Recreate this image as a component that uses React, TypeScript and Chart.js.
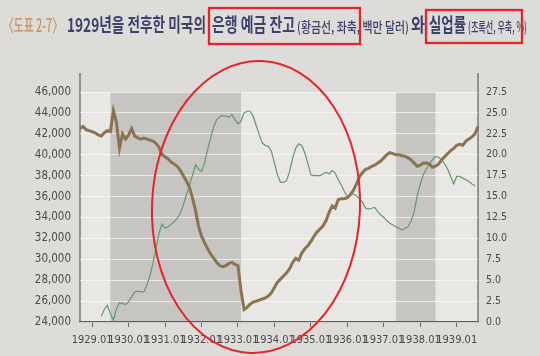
import React, { useEffect, useRef } from "react";
import { Chart, registerables } from "chart.js";

Chart.register(...registerables);

// ---------- categories (monthly, 1928.09 – 1939.08) ----------
const START_YEAR = 1928;
const START_MONTH = 9;
const MONTH_COUNT = 132;
const months: string[] = [];
for (let i = 0; i < MONTH_COUNT; i++) {
  const t = START_MONTH - 1 + i;
  const y = START_YEAR + Math.floor(t / 12);
  const m = (t % 12) + 1;
  months.push(`${y}.${String(m).padStart(2, "0")}`);
}

// ---------- series: bank deposits (million $, left axis) ----------
const deposits: number[] = [
  42500, 42700, 42400, 42300, // 1928.09-12
  42200, 42100, 41900, 41800, 42100, 42300, 42200, 44200, 43100, 40600, 42000, 41500, // 1929
  41900, 42500, 41800, 41600, 41500, 41600, 41500, 41400, 41300, 41100, 40700, 40000, // 1930
  39800, 39600, 39300, 39100, 38900, 38500, 38000, 37500, 36900, 35900, 34700, 33200, // 1931
  32200, 31600, 31000, 30500, 30100, 29700, 29400, 29300, 29400, 29600, 29700, 29500, // 1932
  29400, 27000, 25200, 25400, 25700, 25900, 26000, 26100, 26200, 26300, 26500, 26800, // 1933
  27300, 27800, 28100, 28400, 28700, 29100, 29700, 30100, 29900, 30600, 31000, 31300, // 1934
  31700, 32200, 32600, 32900, 33200, 33700, 34500, 35100, 34900, 35700, 35800, 35800, // 1935
  35900, 36200, 36600, 37200, 37900, 38300, 38600, 38700, 38900, 39000, 39200, 39400, // 1936
  39700, 40000, 40200, 40100, 40000, 40000, 39900, 39850, 39700, 39500, 39200, 38900, // 1937
  39000, 39200, 39200, 39100, 38800, 38900, 39100, 39500, 39800, 40100, 40400, 40600, // 1938
  40900, 41000, 40900, 41300, 41500, 41700, 42000, 42700, // 1939.01-08
];

// ---------- series: unemployment rate (%, right axis) ----------
const unemployment: (number | null)[] = [
  null, null, null, null, // 1928.09-12
  null, null, null, 0.7, 1.5, 2.0, 1.0, 0.2, 1.6, 2.3, 2.2, 2.1, // 1929
  2.4, 3.0, 3.6, 3.7, 3.6, 3.6, 4.4, 5.5, 7.0, 8.8, 10.6, 11.7, // 1930
  11.2, 11.4, 11.7, 12.0, 12.4, 13.0, 14.0, 15.2, 16.3, 17.5, 18.8, 18.3, // 1931
  18.0, 19.0, 20.6, 22.0, 23.3, 24.2, 24.5, 24.7, 24.6, 24.5, 24.8, 24.2, // 1932
  23.7, 24.0, 25.0, 25.2, 25.2, 24.6, 23.5, 22.4, 21.4, 21.1, 21.0, 20.4, // 1933
  19.0, 17.6, 16.7, 16.7, 16.9, 18.0, 19.6, 20.8, 21.3, 21.1, 20.2, 19.0, // 1934
  17.6, 17.5, 17.5, 17.5, 17.7, 17.9, 17.7, 18.1, 17.8, 17.0, 16.4, 15.6, // 1935
  15.0, 15.2, 15.3, 15.1, 14.7, 14.3, 13.6, 13.5, 13.6, 13.7, 13.2, 12.8, // 1936
  12.5, 12.1, 11.8, 11.6, 11.4, 11.2, 11.0, 11.2, 11.4, 12.1, 13.2, 15.1, // 1937
  16.5, 17.6, 18.3, 18.9, 19.4, 19.8, 19.7, 19.4, 18.9, 18.3, 17.4, 16.5, // 1938
  17.4, 17.4, 17.2, 17.0, 16.8, 16.5, 16.3, null, // 1939.01-08
];

// recession (shaded) periods
const recessionBands: [string, string][] = [
  ["1929.07", "1933.02"],
  ["1937.05", "1938.06"],
];

// axis ranges
const depositAxis = { min: 24000, max: 46000, step: 2000 };
const rateAxis = { min: 0, max: 27.5, step: 2.5 };

// title text pieces
const titleTexts = [
  "〈도표 2-7〉",
  "1929년을 전후한 미국의",
  "은행 예금 잔고",
  "(황금선, 좌축, 백만 달러)",
  "와",
  "실업률",
  "(초록선, 우축, %)",
];

const KR = '"Noto Sans CJK KR", "Noto Sans", sans-serif';
const NARROW = '"Liberation Sans Narrow", "DejaVu Sans Condensed", "Liberation Sans", sans-serif';

function drawFit(
  ctx: CanvasRenderingContext2D,
  text: string,
  x0: number,
  x1: number,
  y: number,
  font: string,
  color: string
) {
  ctx.save();
  ctx.font = font;
  ctx.fillStyle = color;
  ctx.textBaseline = "middle";
  ctx.textAlign = "left";
  const w = ctx.measureText(text).width;
  ctx.translate(x0, y);
  ctx.scale((x1 - x0) / w, 1);
  ctx.fillText(text, 0, 0);
  ctx.restore();
}

const decorPlugin = {
  id: "decor",
  beforeDraw(chart: any) {
    const ctx: CanvasRenderingContext2D = chart.ctx;
    const { left, right, top, bottom } = chart.chartArea;
    ctx.save();
    // page
    ctx.fillStyle = "#dddcd8";
    ctx.fillRect(0, 0, chart.width, chart.height);
    // plot background
    ctx.fillStyle = "#e8e7e4";
    ctx.fillRect(left, top, right - left, bottom - top);
    // bands
    const xs = chart.scales.x;
    ctx.fillStyle = "#c6c5c1";
    for (const [a, b] of recessionBands) {
      const xa = xs.getPixelForValue(months.indexOf(a));
      const xb = xs.getPixelForValue(months.indexOf(b));
      ctx.fillRect(xa, top, xb - xa, bottom - top);
    }
    // title
    const tan = "#c4946a";
    const navy = "#3d416c";
    const big = `600 19px ${KR}`;
    const small = `500 14px ${KR}`;
    drawFit(ctx, titleTexts[0], 3, 63, 25, `500 18px ${KR}`, tan);
    drawFit(ctx, titleTexts[1], 67, 206, 25, big, navy);
    drawFit(ctx, titleTexts[2], 212, 295, 25, big, navy);
    drawFit(ctx, titleTexts[3], 297, 409, 27, small, navy);
    drawFit(ctx, titleTexts[4], 411, 425, 25, big, navy);
    drawFit(ctx, titleTexts[5], 429, 466, 25, big, navy);
    drawFit(ctx, titleTexts[6], 468, 527, 27, small, navy);
    // vertical axis lines (extend above the plot)
    ctx.strokeStyle = "#5f5f5f";
    ctx.lineWidth = 1.2;
    ctx.beginPath();
    ctx.moveTo(left, 73);
    ctx.lineTo(left, bottom);
    ctx.moveTo(right, 73);
    ctx.lineTo(right, bottom);
    ctx.stroke();
    ctx.restore();
  },
  afterDraw(chart: any) {
    const ctx: CanvasRenderingContext2D = chart.ctx;
    ctx.save();
    ctx.strokeStyle = "#e4252b";
    ctx.lineWidth = 2.3;
    ctx.strokeRect(209, 8, 151, 36);
    ctx.strokeRect(426, 10, 96, 33);
    ctx.lineWidth = 2;
    ctx.beginPath();
    ctx.ellipse(256, 207, 104, 146, 0.04, 0, Math.PI * 2);
    ctx.stroke();
    ctx.restore();
  },
};

export default function App() {
  const ref = useRef<HTMLCanvasElement | null>(null);

  useEffect(() => {
    if (!ref.current) return;
    const chart = new Chart(ref.current, {
      type: "line",
      data: {
        labels: months,
        datasets: [
          {
            label: "은행 예금 잔고",
            data: deposits,
            yAxisID: "y",
            borderColor: "#8a7350",
            borderWidth: 3,
            pointRadius: 0,
            tension: 0,
          },
          {
            label: "실업률",
            data: unemployment,
            yAxisID: "y1",
            borderColor: "#66966e",
            borderWidth: 1.2,
            pointRadius: 0,
            tension: 0,
            spanGaps: false,
          },
        ],
      },
      options: {
        responsive: false,
        animation: false,
        layout: { padding: { top: 92, left: 0, right: 0, bottom: 0 } },
        plugins: { legend: { display: false }, tooltip: { enabled: false } },
        scales: {
          x: {
            type: "category",
            grid: {
              drawOnChartArea: false,
              tickLength: 5,
              color: (c: any) =>
                months[c.index] && months[c.index].endsWith(".01") ? "#666666" : "rgba(0,0,0,0)",
            },
            border: { color: "#5f5f5f", width: 1.2 },
            ticks: {
              autoSkip: false,
              maxRotation: 0,
              minRotation: 0,
              padding: 7,
              color: "#4a4a4a",
              font: { family: NARROW, size: 11 },
              callback: (_v: any, i: number) => (months[i].endsWith(".01") ? months[i] : ""),
            },
            afterFit: (s: any) => {
              s.height = 34;
            },
          },
          y: {
            position: "left",
            min: depositAxis.min,
            max: depositAxis.max,
            grid: { color: "rgba(255,255,255,0.6)", drawTicks: false },
            border: { display: false },
            ticks: {
              stepSize: depositAxis.step,
              padding: 9,
              color: "#4a4a4a",
              font: { family: NARROW, size: 11.5 },
              callback: (v: any) => Number(v).toLocaleString("en-US"),
            },
            afterFit: (s: any) => {
              s.width = 80;
            },
          },
          y1: {
            position: "right",
            min: rateAxis.min,
            max: rateAxis.max,
            grid: { drawOnChartArea: false, drawTicks: false },
            border: { display: false },
            ticks: {
              stepSize: rateAxis.step,
              padding: 8,
              color: "#4a4a4a",
              font: { family: NARROW, size: 10.5 },
              callback: (v: any) => Number(v).toFixed(1),
            },
            afterFit: (s: any) => {
              s.width = 62;
            },
          },
        },
      },
      plugins: [decorPlugin],
    } as any);
    return () => chart.destroy();
  }, []);

  return (
    <div style={{ position: "fixed", left: 0, top: 0, width: 540, height: 356 }}>
      <canvas ref={ref} width={540} height={356} style={{ width: 540, height: 356, display: "block" }} />
    </div>
  );
}
